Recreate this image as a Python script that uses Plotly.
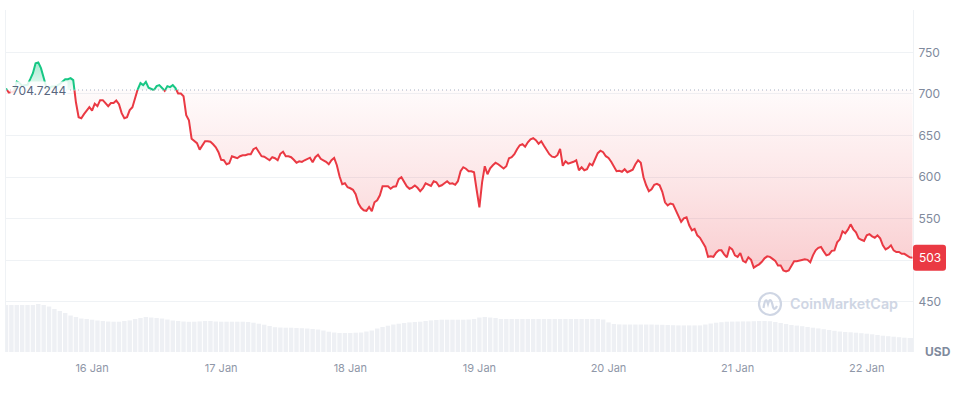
import pandas as pd
import plotly.graph_objects as go

# ---------------- data ----------------
BASE = 704.7244          # reference (open) price shown by the dotted line
LAST = 503               # last price shown in the red tag
start = pd.Timestamp("2024-01-15 08:00")

# price every 30 minutes from 15 Jan 08:00 to 22 Jan 08:30
price_times = pd.date_range(start, periods=338, freq="30min")
price = [
    706.6, 701.8, 702, 703, 715, 713, 710, 710.6, 711, 717.8,
    725, 737, 738, 731, 718, 708, 707, 709, 709, 710,
    712, 715.4, 717.8, 717.8, 719, 716.6, 690, 672, 670.8, 675.7,
    679.3, 684.1, 680, 688.3, 685.3, 692.5, 692.5, 688.3, 685.3, 689,
    689, 692, 687.7, 676.9, 670.8, 672, 680.5, 684.1, 696.1, 705.8,
    713, 710.6, 714.6, 707.6, 705.8, 704.6, 709.4, 710.6, 707.6, 703.7,
    709.4, 708.2, 710.6, 707, 700.5, 700.4, 697.3, 674.5, 668.4, 646.1,
    643.1, 640.7, 633, 638.3, 643.1, 643.1, 642.5, 639.5, 635.9, 629.9,
    620.8, 620.2, 615.4, 616.6, 625.1, 623.9, 622.7, 625.1, 626.3, 626.3,
    627.5, 627.5, 633.5, 635.3, 629.9, 625.1, 624.5, 622.7, 620.2, 623.9,
    622.7, 620.2, 628, 630.5, 625, 625.1, 623.9, 620.8, 617.2, 619,
    618.2, 620.2, 621.4, 623.3, 617.8, 623.9, 626.9, 622, 620.2, 618.4,
    615.4, 620.2, 622.9, 614.2, 601, 591.3, 592.5, 587.7, 586.5, 584.7,
    579.3, 568.4, 563, 560, 559.4, 564, 559, 569.6, 572.1, 578,
    588.9, 588.9, 588.9, 585.9, 588.3, 588.9, 597.4, 599.8, 593.7, 588.9,
    585.9, 587.3, 589.9, 587.1, 582.9, 586.5, 592.5, 591.3, 589.3, 595,
    593.7, 588.9, 590.1, 592.5, 595, 591.9, 592.5, 590.7, 595, 607,
    611.8, 610, 607, 607, 605.8, 584.1, 563.6, 593.7, 613, 603.4,
    610.6, 614.2, 617.2, 615.4, 612.4, 610.2, 613, 622.7, 623.9, 627.5,
    633.5, 638.3, 639.5, 636.5, 641.9, 645.5, 646.7, 644.3, 640.1, 643.1,
    637.7, 631.7, 627.5, 624.5, 623.9, 626.3, 634, 613.6, 619, 616.2,
    617, 618.4, 620.2, 608.2, 611.8, 608.2, 609.4, 616, 614.2, 622.7,
    628.7, 631.7, 629.9, 625.1, 622.9, 618.4, 611.8, 607, 607.6, 606.4,
    609.4, 605.8, 607.3, 608.8, 615.4, 620.2, 617.2, 599.8, 590.1, 582.9,
    585.3, 590.7, 591.9, 590.1, 582.3, 569.6, 566, 568.2, 567.2, 560.6,
    552.8, 546.1, 550.4, 551.6, 541.9, 535.9, 537.7, 529.9, 526.9, 521.4,
    516, 504, 504.6, 504, 509, 511.8, 511.8, 507, 503.4, 515.4,
    513, 505.8, 504, 508.6, 499.2, 497.4, 503.4, 500.4, 491, 493.2,
    495, 498, 502.2, 504.6, 504, 501.6, 499.2, 493.7, 493.7, 487.7,
    486.5, 487.7, 493.7, 498.6, 498.6, 499.2, 499.8, 501, 500.4, 497.4,
    505.8, 511.8, 514.8, 515.8, 510.6, 505.8, 507, 511.2, 511.8, 521.4,
    525.1, 534.7, 532.3, 536.7, 543.1, 537.1, 533.5, 526.3, 524.5, 523.2,
    529.9, 531.3, 528.7, 526.9, 529.9, 526.3, 517.8, 513, 514.8, 517.8,
    511.8, 509.8, 509.8, 507.6, 507.6, 505.8, 503.4, 503,
]

# hourly volume (relative units), 15 Jan 08:00 .. 22 Jan 08:00, plus 08:30
vol_times = list(pd.date_range(start, periods=169, freq="h")) + [pd.Timestamp("2024-01-22 08:30")]
volume = [
    47, 47, 47, 47, 47, 47, 48, 47, 45.5, 43,
    41, 39, 36.5, 35, 33.5, 33, 32.3, 31.5, 31, 30.5,
    30.3, 30.3, 31, 31.6, 33, 34, 35, 34.5, 34, 33.5,
    32.5, 31.5, 31, 30.5, 30.2, 30.3, 30.6, 31, 31, 30.5,
    30.3, 30.3, 30.3, 30.3, 30.3, 30, 29.3, 28.3, 27.3, 26,
    24.8, 24.5, 24.3, 24.3, 24, 23.8, 23.5, 23, 22.5, 21.5,
    20.3, 19.5, 19, 19, 19, 19.3, 19.5, 20.5, 21.5, 23.5,
    25, 26.3, 27.5, 28.3, 29, 29.6, 30, 30.3, 31, 31.6,
    32, 32.3, 32.3, 32.3, 32.3, 32.3, 32.5, 33, 34.5, 35,
    34.5, 34, 33, 33, 33, 33, 33, 33, 33, 33,
    33, 33, 33, 33, 33, 33, 33, 33, 33, 33,
    33, 32.5, 29.6, 28, 27.6, 27.5, 27.5, 27.5, 27.5, 27.5,
    27.5, 27.3, 27.2, 27, 26.8, 26.6, 26.6, 26.6, 26.6, 26.6,
    27.5, 28.5, 29.3, 29.8, 30.3, 30.4, 30.5, 30.6, 30.6, 30.8,
    31, 31, 30.8, 30, 29, 28, 27, 26.4, 25.8, 25,
    24.3, 23.6, 22.8, 22, 21.2, 20.5, 20, 19.7, 19.3, 18.8,
    18.3, 17.7, 17, 16.3, 15.8, 15.3, 14.8, 14.3, 14, 14,
]

x_tick_dates = ["2024-01-16", "2024-01-17", "2024-01-18", "2024-01-19",
                "2024-01-20", "2024-01-21", "2024-01-22"]
x_tick_labels = ["16 Jan", "17 Jan", "18 Jan", "19 Jan", "20 Jan", "21 Jan", "22 Jan"]
y_tick_vals = [450, 500, 550, 600, 650, 700, 750, 800]
y_tick_text = ["450", "", "550", "600", "650", "700", "750", ""]

# ------------- split the line at the baseline (rendering only) -------------
times = list(price_times)
xs, ys = [], []
for i, (t, p) in enumerate(zip(times, price)):
    if i > 0:
        p0, t0 = price[i - 1], times[i - 1]
        if (p0 - BASE) * (p - BASE) < 0:
            f = (BASE - p0) / (p - p0)
            xs.append(t0 + (t - t0) * f)
            ys.append(BASE)
    xs.append(t)
    ys.append(p)

eps = 1e-9
red_line = [y if y <= BASE + eps else None for y in ys]
green_line = [y if y >= BASE - eps else None for y in ys]
red_fill = [min(y, BASE) for y in ys]
green_fill = [max(y, BASE) for y in ys]
base_line = [BASE] * len(xs)

RED = "#ea3943"
GREEN = "#16c784"
FONT = "Inter, Roboto, sans-serif"

fig = go.Figure()

fig.add_trace(go.Bar(
    x=vol_times, y=volume, yaxis="y2", marker=dict(color="#eef0f4", line=dict(width=0)),
    width=3600 * 1000 * 0.82, hoverinfo="skip", showlegend=False))

fig.add_trace(go.Scatter(x=xs, y=base_line, mode="lines", line=dict(width=0, color="rgba(0,0,0,0)"),
                         hoverinfo="skip", showlegend=False))
fig.add_trace(go.Scatter(
    x=xs, y=red_fill, mode="lines", fill="tonexty",
    line=dict(width=0, color="rgba(0,0,0,0)"),
    fillgradient=dict(type="vertical", start=480, stop=BASE,
                      colorscale=[[0, "rgba(234,57,67,0.26)"], [0.5, "rgba(234,57,67,0.13)"],
                                  [1, "rgba(234,57,67,0.02)"]]),
    hoverinfo="skip", showlegend=False))
fig.add_trace(go.Scatter(x=xs, y=base_line, mode="lines", line=dict(width=0, color="rgba(0,0,0,0)"),
                         hoverinfo="skip", showlegend=False))
fig.add_trace(go.Scatter(
    x=xs, y=green_fill, mode="lines", fill="tonexty",
    line=dict(width=0, color="rgba(0,0,0,0)"),
    fillgradient=dict(type="vertical", start=BASE, stop=740,
                      colorscale=[[0, "rgba(22,199,132,0.06)"], [1, "rgba(22,199,132,0.4)"]]),
    hoverinfo="skip", showlegend=False))

fig.add_trace(go.Scatter(x=xs, y=red_line, mode="lines", line=dict(color=RED, width=2),
                         connectgaps=False, hoverinfo="skip", showlegend=False))
fig.add_trace(go.Scatter(x=xs, y=green_line, mode="lines", line=dict(color=GREEN, width=2),
                         connectgaps=False, hoverinfo="skip", showlegend=False))

# plot area pixel geometry used for paper positions
L, R, T, B = 6, 49, 10, 47
W, H = 962 - L - R, 399 - T - B

shapes = [
    dict(type="line", xref="paper", yref="y", x0=0, x1=1, y0=BASE, y1=BASE,
         line=dict(color="#a6b0c3", width=1, dash="1px,3px"), layer="above"),
    dict(type="path", xref="paper", yref="y", xsizemode="pixel", ysizemode="pixel",
         xanchor=1, yanchor=LAST,
         path="M 3,-13 L 30,-13 Q 33,-13 33,-10 L 33,10 Q 33,13 30,13 L 3,13 Q 0,13 0,10 L 0,-10 Q 0,-13 3,-13 Z",
         fillcolor=RED, line=dict(width=0), layer="above"),
    dict(type="circle", xref="paper", yref="paper", xsizemode="pixel", ysizemode="pixel",
         xanchor=(770 - L) / W, yanchor=(399 - B - 304) / H, x0=-11, x1=11, y0=-11, y1=11,
         line=dict(color="#cfd6e4", width=2.2), layer="above"),
    dict(type="path", xref="paper", yref="paper", xsizemode="pixel", ysizemode="pixel",
         xanchor=(770 - L) / W, yanchor=(399 - B - 304) / H,
         path="M -6.5,-4 Q -4.5,9 -2,0 Q 0.5,9 3,-3 Q 4.5,-7 7,-2",
         line=dict(color="#cfd6e4", width=2.2), layer="above"),
]

annotations = [
    dict(xref="paper", yref="y", x=0, y=BASE, xanchor="left", yanchor="middle", xshift=4,
         text="704.7244", showarrow=False, bgcolor="rgba(255,255,255,0.85)", borderpad=1,
         font=dict(family=FONT, size=12, color="#58667e")),
    dict(xref="paper", yref="y", x=1, y=LAST, xanchor="center", yanchor="middle", xshift=16.5,
         text=str(LAST), showarrow=False, font=dict(family=FONT, size=12, color="white")),
    dict(xref="paper", yref="paper", x=(938 - L) / W, y=(399 - B - 351) / H, xanchor="center",
         yanchor="middle", text="<b>USD</b>", showarrow=False,
         font=dict(family=FONT, size=12, color="#808a9d")),
    dict(xref="paper", yref="paper", x=(788 - L) / W, y=(399 - B - 303.5) / H, xanchor="left",
         yanchor="middle", text="CoinMarketCap", showarrow=False,
         font=dict(family=FONT, size=14.3, color="#cfd6e4", weight=600)),
]

fig.update_layout(
    width=962, height=399,
    margin=dict(l=L, r=R, t=T, b=B),
    paper_bgcolor="white", plot_bgcolor="white",
    font=dict(family=FONT),
    showlegend=False,
    bargap=0.15,
    xaxis=dict(type="date", range=["2024-01-15 08:00", "2024-01-22 08:36"],
               tickvals=x_tick_dates, ticktext=x_tick_labels,
               showgrid=False, zeroline=False, showline=False, ticks="",
               tickfont=dict(family=FONT, size=11, color="#8f97a8"), ticklabelstandoff=8),
    yaxis=dict(side="right", range=[389.5, 801], tickvals=y_tick_vals, ticktext=y_tick_text,
               gridcolor="#eff2f5", gridwidth=1, showline=True, linecolor="#eff2f5", linewidth=1,
               mirror=True, ticks="", zeroline=False,
               tickfont=dict(family=FONT, size=12, color="#808a9d"), ticklabelstandoff=2),
    yaxis2=dict(overlaying="y", range=[0, H], visible=False),
    shapes=shapes,
    annotations=annotations,
)

fig.write_html("out.html")
